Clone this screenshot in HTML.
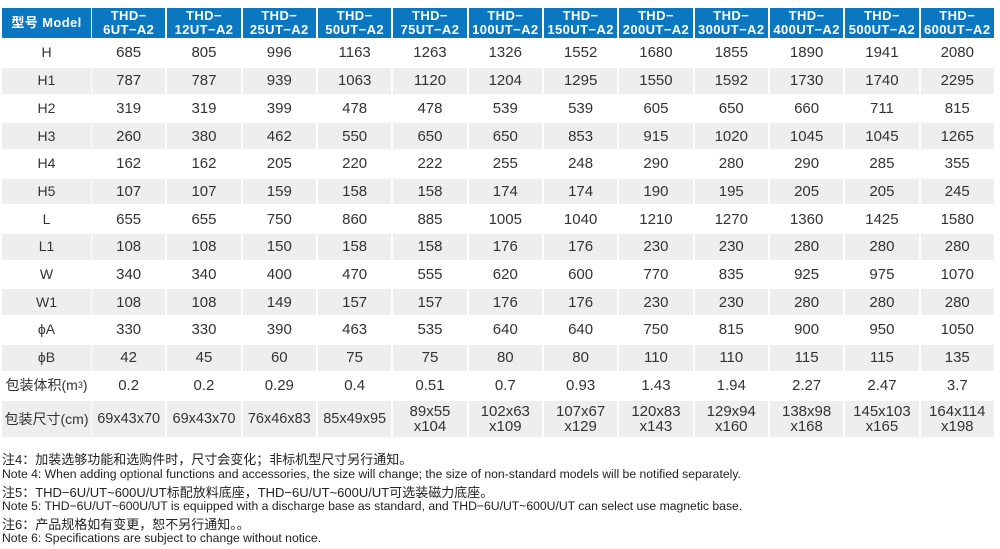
<!DOCTYPE html>
<html><head><meta charset="utf-8"><style>
body{margin:0;width:1000px;height:549px;background:#fff;position:relative;overflow:hidden;font-family:"Liberation Sans","Noto Sans CJK SC",sans-serif;color:#333}
.c{position:absolute;display:flex;align-items:center;justify-content:center;text-align:center;font-size:15px;line-height:15px}
.h{background:#0b77c1;color:#fff;font-weight:bold;font-size:13px;line-height:14px;letter-spacing:0.4px}
.g{background:#eeeeee}
.n{position:absolute;left:2px;white-space:nowrap;color:#222}
</style></head><body>
<div id="t"></div>
<div class="n" style="top:449px;font-size:13px">注4：加装选够功能和选购件时，尺寸会变化；非标机型尺寸另行通知。</div>
<div class="n" style="top:467px;font-size:12.2px">Note 4: When adding optional functions and accessories, the size will change; the size of non-standard models will be notified separately.</div>
<div class="n" style="top:482px;font-size:13px">注5：THD−6U/UT~600U/UT标配放料底座，THD−6U/UT~600U/UT可选装磁力底座。</div>
<div class="n" style="top:499px;font-size:12.2px">Note 5: THD−6U/UT~600U/UT is equipped with a discharge base as standard, and THD−6U/UT~600U/UT can select use magnetic base.</div>
<div class="n" style="top:514px;font-size:13px">注6：产品规格如有变更，恕不另行通知。。</div>
<div class="n" style="top:531px;font-size:12.2px">Note 6: Specifications are subject to change without notice.</div>
<script>
var hd=["型号 Model","THD−<br>6UT−A2","THD−<br>12UT−A2","THD−<br>25UT−A2","THD−<br>50UT−A2","THD−<br>75UT−A2","THD−<br>100UT−A2","THD−<br>150UT−A2","THD−<br>200UT−A2","THD−<br>300UT−A2","THD−<br>400UT−A2","THD−<br>500UT−A2","THD−<br>600UT−A2"];
var rows=[
["H",685,805,996,1163,1263,1326,1552,1680,1855,1890,1941,2080],
["H1",787,787,939,1063,1120,1204,1295,1550,1592,1730,1740,2295],
["H2",319,319,399,478,478,539,539,605,650,660,711,815],
["H3",260,380,462,550,650,650,853,915,1020,1045,1045,1265],
["H4",162,162,205,220,222,255,248,290,280,290,285,355],
["H5",107,107,159,158,158,174,174,190,195,205,205,245],
["L",655,655,750,860,885,1005,1040,1210,1270,1360,1425,1580],
["L1",108,108,150,158,158,176,176,230,230,280,280,280],
["W",340,340,400,470,555,620,600,770,835,925,975,1070],
["W1",108,108,149,157,157,176,176,230,230,280,280,280],
["ϕA",330,330,390,463,535,640,640,750,815,900,950,1050],
["ϕB",42,45,60,75,75,80,80,110,110,115,115,135],
["包装体积(m<sup style='font-size:9px'>3</sup>)","0.2","0.2","0.29","0.4","0.51","0.7","0.93","1.43","1.94","2.27","2.47","3.7"],
["包装尺寸(cm)","69x43x70","69x43x70","76x46x83","85x49x95","89x55<br>x104","102x63<br>x109","107x67<br>x129","120x83<br>x143","129x94<br>x160","138x98<br>x168","145x103<br>x165","164x114<br>x198"]];
var out="";
function cx(i){return i==0?[2,89]:[92+(i-1)*75.33,73.3];}
for(var i=0;i<13;i++){var p=cx(i);out+='<div class="c h" style="left:'+p[0]+'px;top:8px;width:'+p[1]+'px;height:30px">'+hd[i]+'</div>';}
for(var r=0;r<14;r++){var yy=40+r*27.7,ht=25.9;if(r==13){yy=401;ht=36;}
var g=r%2==1?' g':'';
for(var i=0;i<13;i++){var p=cx(i);var fs=i==0?'font-size:14px;':'';
if(r==13&&i>0&&String(rows[r][i]).indexOf('<br>')<0)fs='font-size:14.5px;';
out+='<div class="c'+g+'" style="'+fs+'left:'+p[0]+'px;top:'+yy+'px;width:'+p[1]+'px;height:'+ht+'px">'+rows[r][i]+'</div>';}}
document.getElementById('t').innerHTML=out;
</script>
</body></html>
